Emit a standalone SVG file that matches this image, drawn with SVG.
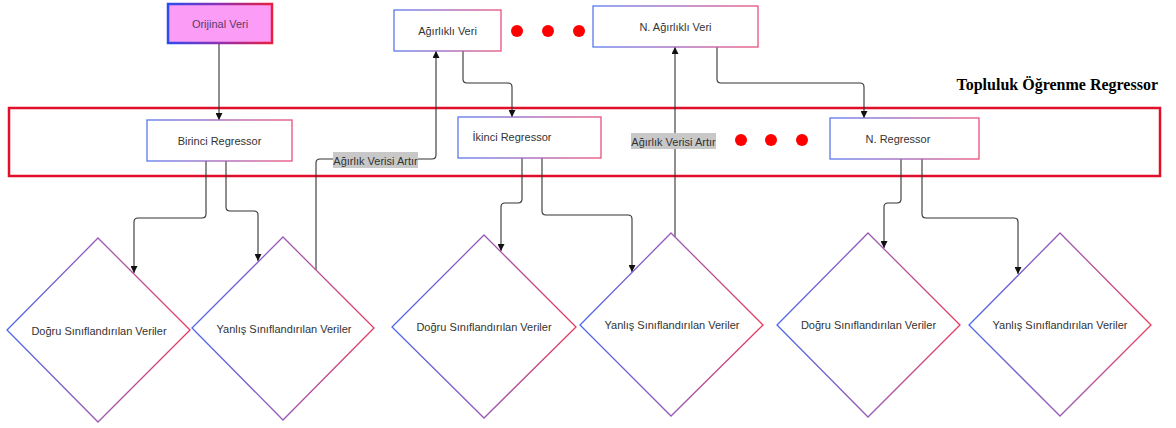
<svg xmlns="http://www.w3.org/2000/svg" width="1176" height="428" viewBox="0 0 1176 428">
  <defs>
    <linearGradient id="edge" x1="0" y1="0" x2="1" y2="0">
      <stop offset="0" stop-color="#5a78ee"/>
      <stop offset="0.5" stop-color="#a060b8"/>
      <stop offset="1" stop-color="#ea4f7a"/>
    </linearGradient>
    <linearGradient id="edgeDiamond" x1="0" y1="0" x2="1" y2="0">
      <stop offset="0" stop-color="#4a68ea"/>
      <stop offset="0.5" stop-color="#9a58b8"/>
      <stop offset="1" stop-color="#e83a5c"/>
    </linearGradient>
    <linearGradient id="edgeStrong" x1="0" y1="0" x2="1" y2="0">
      <stop offset="0" stop-color="#2c4cf0"/>
      <stop offset="0.5" stop-color="#9030b0"/>
      <stop offset="1" stop-color="#e8203c"/>
    </linearGradient>
    <marker id="arrow" viewBox="0 0 10 10" refX="10" refY="5" markerWidth="7" markerHeight="7" markerUnits="userSpaceOnUse" orient="auto">
      <path d="M0,0 L10,5 L0,10 z" fill="#111"/>
    </marker>
    <style>
      .box { fill: #ffffff; stroke: url(#edge); stroke-width: 1.3; }
      .diamond { fill: #ffffff; stroke: url(#edgeDiamond); stroke-width: 1.3; }
      .lbl { font-family: "Liberation Sans", Arial, sans-serif; font-size: 11px; fill: #333333; text-anchor: middle; dominant-baseline: central; }
      .conn { fill: none; stroke: #333333; stroke-width: 1.1; }
      .dot { fill: #ff0000; }
      .edgeLabelBg { fill: #c8c8c8; }
    </style>
  </defs>

  <!-- ensemble frame -->
  <g id="ensemble-frame">
    <rect x="9" y="108" width="1151" height="68" fill="none" stroke="#e0102a" stroke-width="2.5"/>
    <text x="1158" y="90" text-anchor="end" font-family="'Liberation Serif', 'Times New Roman', serif" font-weight="bold" font-size="16" fill="#000">Topluluk Öğrenme Regressor</text>
  </g>

  <!-- connectors -->
  <g id="connectors">
    <path class="conn" d="M219,43 V120" marker-end="url(#arrow)"/>
    <path class="conn" d="M463,51 V79 Q463,83 467,83 H508 Q512,83 512,87 V117" marker-end="url(#arrow)"/>
    <path class="conn" d="M717,47 V79 Q717,83 721,83 H860 Q864,83 864,87 V118" marker-end="url(#arrow)"/>
    <path class="conn" d="M206,161 V214 Q206,218 202,218 H138 Q134,218 134,222 V273" marker-end="url(#arrow)"/>
    <path class="conn" d="M226,161 V207 Q226,211 230,211 H254 Q258,211 258,215 V261" marker-end="url(#arrow)"/>
    <path class="conn" d="M522,158 V199 Q522,203 518,203 H505 Q501,203 501,207 V251" marker-end="url(#arrow)"/>
    <path class="conn" d="M542,158 V211 Q542,215 546,215 H628 Q632,215 632,219 V272" marker-end="url(#arrow)"/>
    <path class="conn" d="M901,159 V199 Q901,203 897,203 H888 Q884,203 884,207 V248" marker-end="url(#arrow)"/>
    <path class="conn" d="M922,159 V214 Q922,218 926,218 H1014 Q1018,218 1018,222 V274" marker-end="url(#arrow)"/>
    <path class="conn" d="M316,270 V163 Q316,159 320,159 H432 Q436,159 436,155 V51" marker-end="url(#arrow)"/>
    <path class="conn" d="M675,237 V47" marker-end="url(#arrow)"/>
    <g id="label-weight-1">
      <rect class="edgeLabelBg" x="333" y="152" width="85" height="16"/>
      <text class="lbl" x="375.5" y="160.5">Ağırlık Verisi Artır</text>
    </g>
    <g id="label-weight-2">
      <rect class="edgeLabelBg" x="631" y="133" width="85" height="16"/>
      <text class="lbl" x="673.5" y="141.5">Ağırlık Verisi Artır</text>
    </g>
  </g>

  <!-- data nodes -->
  <g id="orijinal-veri">
    <rect x="168" y="4" width="104" height="39" fill="#fb9cf7" stroke="url(#edgeStrong)" stroke-width="2.5"/>
    <text class="lbl" x="220" y="23.5" fill="#553366" style="fill:#5a3a66">Orijinal Veri</text>
  </g>
  <g id="agirlikli-veri">
    <rect class="box" x="394" y="10" width="107" height="41"/>
    <text class="lbl" x="447.5" y="30.5">Ağırlıklı Veri</text>
  </g>
  <g id="dots-data">
    <circle class="dot" cx="517" cy="31" r="6"/>
    <circle class="dot" cx="548" cy="31" r="6"/>
    <circle class="dot" cx="579" cy="31" r="6"/>
  </g>
  <g id="n-agirlikli-veri">
    <rect class="box" x="593" y="6" width="165" height="41"/>
    <text class="lbl" x="675.5" y="26.5">N. Ağırlıklı Veri</text>
  </g>

  <!-- regressors -->
  <g id="birinci-regressor">
    <rect class="box" x="147" y="120" width="145" height="41"/>
    <text class="lbl" x="219.5" y="140.5">Birinci Regressor</text>
  </g>
  <g id="ikinci-regressor">
    <rect class="box" x="458" y="117" width="143" height="41"/>
    <text class="lbl" x="512" y="137">İkinci Regressor</text>
  </g>
  <g id="dots-regressor">
    <circle class="dot" cx="741" cy="140" r="6"/>
    <circle class="dot" cx="771" cy="140" r="6"/>
    <circle class="dot" cx="802" cy="140" r="6"/>
  </g>
  <g id="n-regressor">
    <rect class="box" x="830" y="118" width="149" height="41"/>
    <text class="lbl" x="898" y="138.5">N. Regressor</text>
  </g>

  <!-- classified data -->
  <g id="dogru-1">
    <polygon class="diamond" points="98,238 190,330 98,422 7,330"/>
    <text class="lbl" x="99" y="330.5">Doğru Sınıflandırılan Veriler</text>
  </g>
  <g id="yanlis-1">
    <polygon class="diamond" points="283,237 374,328 283,420 192,328"/>
    <text class="lbl" x="284" y="328.5">Yanlış Sınıflandırılan Veriler</text>
  </g>
  <g id="dogru-2">
    <polygon class="diamond" points="484,235 576,327 484,418 392,327"/>
    <text class="lbl" x="484" y="327">Doğru Sınıflandırılan Veriler</text>
  </g>
  <g id="yanlis-2">
    <polygon class="diamond" points="671,233 763,325 671,416 580,325"/>
    <text class="lbl" x="672" y="325">Yanlış Sınıflandırılan Veriler</text>
  </g>
  <g id="dogru-3">
    <polygon class="diamond" points="868,233 960,325 868,417 777,325"/>
    <text class="lbl" x="868.5" y="325">Doğru Sınıflandırılan Veriler</text>
  </g>
  <g id="yanlis-3">
    <polygon class="diamond" points="1060,233 1151,325 1060,416 969,325"/>
    <text class="lbl" x="1060" y="325">Yanlış Sınıflandırılan Veriler</text>
  </g>
</svg>
